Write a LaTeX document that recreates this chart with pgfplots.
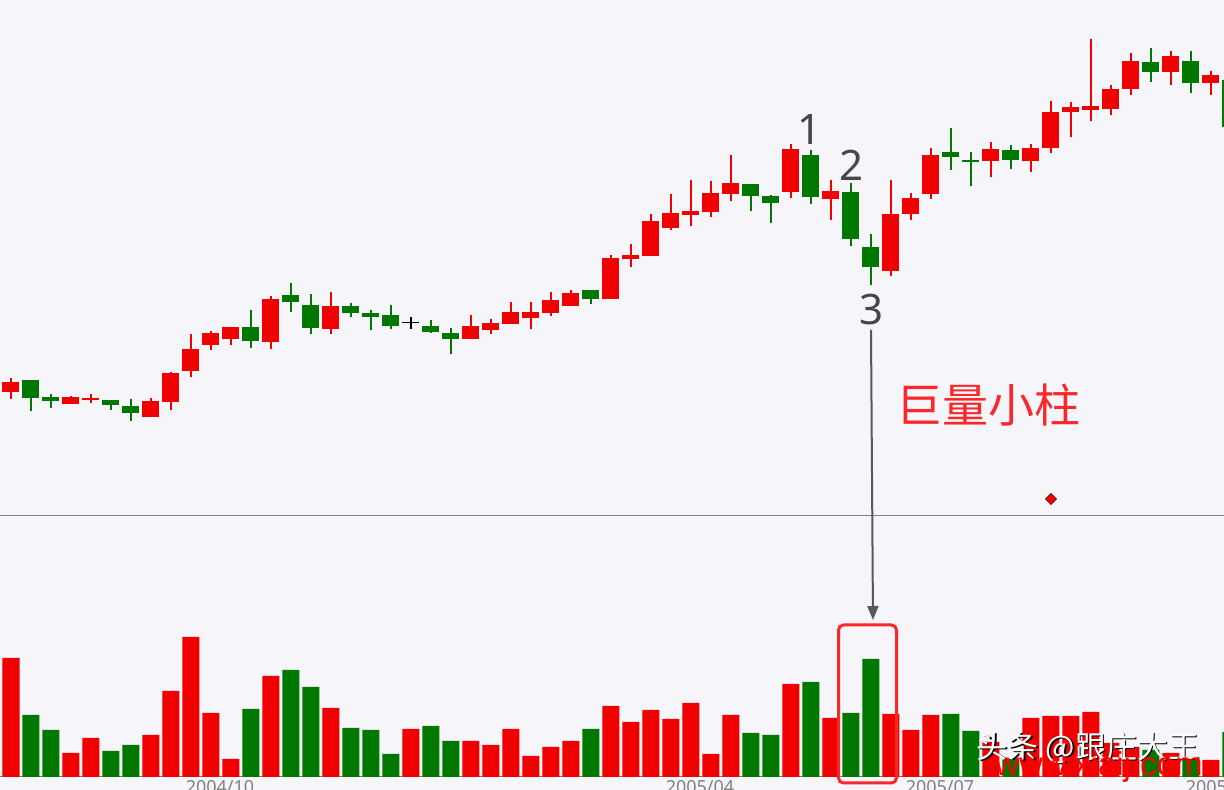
\documentclass[border=0pt]{standalone}
\usepackage{pgfplots}
\pgfplotsset{compat=1.18}
\usepackage{pgfplotstable}
\usepackage{fontspec}
\setmainfont{Noto Sans}
\newfontfamily\cjk{Noto Sans CJK SC}
\newfontfamily\arial{Liberation Sans}
\usetikzlibrary{arrows.meta}
\definecolor{bg}{RGB}{245,245,250}
\definecolor{up}{RGB}{240,0,0}
\definecolor{dn}{RGB}{0,120,0}
\definecolor{lbl}{RGB}{70,70,70}
\definecolor{hot}{RGB}{250,40,40}

% candles: x open high low close (price in arbitrary units)
\pgfplotstableread{
x o h l c
0 208.3 222.3 201.3 218
3 196.3 204 196.3 203
4 200.3 206 197.3 202
7 183.3 202 183.3 199
8 198.3 228 190.3 227
9 229.3 266 223.3 251
10 255.3 269 250.3 267
11 261.3 273 255.3 273
13 258.3 304 251.3 301
16 271.3 308 266.3 294
23 261 285 261 274
24 270 281 266 277
25 276 298 276 288
26 282 298 271 288
27 287 308 284 300
28 294 310 294 307
30 301 345 301 342
31 341 356 333 345
32 344 386 344 379
33 372 406 370 387
34 385 420 374 389
35 388 419 383 407
36 406.3 445 399.3 417
39 408 456 402 451
41 401 420 380 409
44 329 420 324 386
45 386 407 380 402
46 406 452 401 445
49 439 458 423 451
51 439 456 428 452
52 452 499 447 488
53 488 498 463 493
54 490 561 479 494
55 491 515 485 511
56 511 547 505 539
58 528 549 515 544
60 517 529 505 525
}\upk
\pgfplotstableread{
x o h l c
1 220 220 189.3 202.3
2 203 206 192.3 199.3
5 200 200 190.3 195.3
6 194 201 179.3 187.3
12 273 290 252.3 259.3
14 305 317 288.3 298.3
15 295 306 266.3 272.3
17 294 297 283.3 287.3
18 287 290 270.3 283.3
19 285 295 271.3 274.3
21 274 280 267.3 268
22 267 272 246.3 261
29 310 310 296 301
37 416 416 389.3 404.3
38 404 405 377 397
40 445 450 396 403
42 408 417 354 361
43 353 366 315 333
47 448 472 430 443
48 440 448 414 438
50 450 455 431 440
57 538 552 518 528
59 539 549 507 517
61 520 520 473 473
}\dnk
\pgfplotstableread{
x o h l c
20 277.0 283 271.3 278.4
}\dojik

% volume
\pgfplotstableread{
x v
0 119
3 24
4 39
7 42
8 86
9 140
10 64
11 18
13 101
16 69
20 48
23 36
24 32
25 48
26 21
27 30
28 36
30 71
31 55
32 67
33 58
34 74
35 23
36 62
39 93
41 59
44 63
45 47
46 62
49 35
51 59
52 61
53 61
54 65
55 34
56 30
58 24
60 17
}\upv
\pgfplotstableread{
x v
1 62
2 47
5 26
6 32
12 68
14 107
15 90
17 49
18 47
19 23
21 51
22 36
29 48
37 44
38 42
40 95
42 64
43 118
47 63
48 46
50 18
57 27
59 20
61 45
}\dnv

\pgfplotsset{
  wick/.style={draw=none, mark=none, forget plot,
    error bars/.cd, y dir=plus, y explicit, error mark=none,
    error bar style={draw=#1, solid, line width=1.3pt}},
  body/.style={draw=none, mark=none, forget plot,
    error bars/.cd, y dir=plus, y explicit, error mark=none,
    error bar style={draw=#1, solid, line width=17pt}},
}

\begin{document}
\begin{tikzpicture}
\useasboundingbox (0,0) rectangle (1224pt,790pt);
\clip (0,0) rectangle (1224pt,790pt);
\fill[bg] (0,0) rectangle (1224pt,790pt);

\begin{axis}[
  at={(0pt,275pt)}, anchor=south west,
  scale only axis, width=1224pt, height=515pt,
  xmin=-0.55, xmax=60.65, ymin=85, ymax=600,
  axis x line*=bottom, axis y line=none,
  xtick=\empty,
  x axis line style={draw=black!50, line width=0.8pt},
]
  \addplot[wick=up] table[x=x, y=l, y error plus expr=\thisrow{h}-\thisrow{l}] {\upk};
  \addplot[body=up] table[x=x, y=o, y error plus expr=\thisrow{c}-\thisrow{o}] {\upk};
  \addplot[wick=dn] table[x=x, y=l, y error plus expr=\thisrow{h}-\thisrow{l}] {\dnk};
  \addplot[body=dn] table[x=x, y=c, y error plus expr=\thisrow{o}-\thisrow{c}] {\dnk};
  \addplot[wick=black] table[x=x, y=l, y error plus expr=\thisrow{h}-\thisrow{l}] {\dojik};
  \addplot[body=black] table[x=x, y=o, y error plus expr=\thisrow{c}-\thisrow{o}] {\dojik};
  \addplot[only marks, mark=square*, mark size=4pt, mark options={rotate=45, draw=none, fill=up}] coordinates {(52,101)};
\end{axis}

\begin{axis}[
  at={(0pt,13pt)}, anchor=south west,
  scale only axis, width=1224pt, height=262pt,
  xmin=-0.55, xmax=60.65, ymin=0, ymax=262,
  axis x line*=bottom, axis y line=none,
  x axis line style={draw=black!50, line width=1pt},
  ybar, bar width=17pt,
  xtick={10.45,34.45,46.45,60.45},
  xticklabels={2004/10,2005/04,2005/07,2005/10},
  major tick length=0pt,
  x tick label style={font=\fontsize{18}{18}\selectfont, text=black!50, inner sep=3pt},
]
  \addplot[draw=none, fill=up, bar shift=0pt] table[x=x, y=v] {\upv};
  \addplot[draw=none, fill=dn, bar shift=0pt] table[x=x, y=v] {\dnv};
\end{axis}

% annotations
\node[text=lbl, font=\fontsize{42}{42}\selectfont] at (810pt,660pt) {1};
\node[text=lbl, font=\fontsize{42}{42}\selectfont] at (852pt,625pt) {2};
\node[text=lbl, font=\fontsize{42}{42}\selectfont] at (872pt,480pt) {3};
\node[text=hot, font=\cjk\fontsize{46}{46}\selectfont] at (988pt,385pt) {巨量小柱};
\draw[black!65, line width=2pt, -{Triangle[width=11pt,length=14pt]}] (871pt,460pt) -- (873pt,170pt);
\draw[hot, line width=3pt, rounded corners=5pt] (838.5pt,7pt) rectangle (896.5pt,165pt);

% watermark
\node[text=black, font=\cjk\fontsize{31}{31}\selectfont] at (1089.5pt,40.5pt) {头条 @跟庄大王};
\node[text=white, font=\cjk\fontsize{31}{31}\selectfont] at (1088pt,42pt) {头条 @跟庄大王};
\node[text=red, font=\arial\fontsize{33}{33}\selectfont, anchor=base] at (1099pt,14pt) {www.xiaij.com};
\end{tikzpicture}
\end{document}
